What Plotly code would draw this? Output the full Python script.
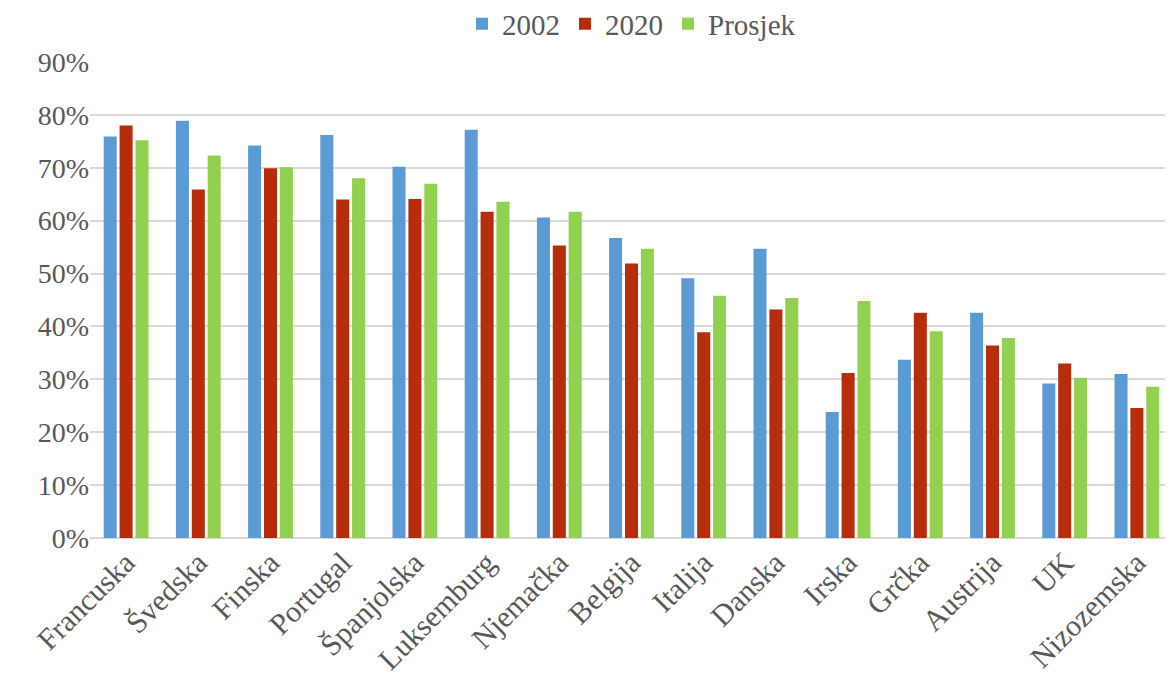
import plotly.graph_objects as go

categories = ["Francuska", "Švedska", "Finska", "Portugal", "Španjolska", "Luksemburg",
              "Njemačka", "Belgija", "Italija", "Danska", "Irska", "Grčka", "Austrija",
              "UK", "Nizozemska"]
v2002 = [75.9, 78.9, 74.2, 76.2, 70.2, 77.2, 60.6, 56.7, 49.1, 54.7, 23.8, 33.7, 42.6, 29.2, 31.0]
v2020 = [78.0, 65.9, 69.9, 64.0, 64.1, 61.7, 55.3, 51.9, 38.9, 43.2, 31.2, 42.6, 36.4, 33.0, 24.6]
prosjek = [75.2, 72.3, 70.1, 68.0, 67.0, 63.6, 61.7, 54.7, 45.8, 45.4, 44.8, 39.1, 37.8, 30.3, 28.6]
tick_vals = [0, 10, 20, 30, 40, 50, 60, 70, 80, 90]
tick_text = [f"{v}%" for v in tick_vals]

font = "Liberation Serif, Times New Roman, serif"
gray = "#595959"

fig = go.Figure()
for name, vals, col in [("2002", v2002, "#5B9BD5"), ("2020", v2020, "#B72D0C"),
                        ("Prosjek", prosjek, "#92D050")]:
    fig.add_trace(go.Bar(name=name, x=categories, y=vals, marker_color=col,
                         marker_line_width=0))

fig.update_layout(
    width=1173, height=675,
    barmode="group", bargap=0.34, bargroupgap=0.18,
    plot_bgcolor="white", paper_bgcolor="white",
    margin=dict(l=82, r=8, t=54, b=145, autoexpand=False),
    font=dict(family=font, size=28, color=gray),
    legend=dict(orientation="h", x=0.5, xanchor="center", y=1.08, yanchor="middle",
                font=dict(family=font, size=29, color=gray), itemwidth=30,
                traceorder="normal"),
    showlegend=True,
)
fig.update_yaxes(range=[0, 90], tickvals=tick_vals, ticktext=tick_text,
                 gridcolor="#D9D9D9", gridwidth=1.5, zeroline=True,
                 zerolinecolor="#D9D9D9", zerolinewidth=1.5, automargin=False,
                 tickfont=dict(family=font, size=28, color=gray), ticks="",
                 showline=False)
fig.update_xaxes(tickangle=-45, tickfont=dict(family=font, size=30, color=gray),
                 showline=False, ticks="", automargin=False)

fig.write_html("out.html")
